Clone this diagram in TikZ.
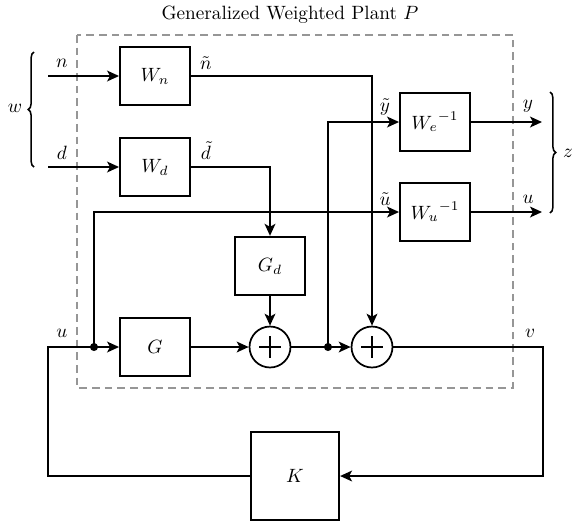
\documentclass[tikz,border=0pt]{standalone}
\usepackage{tikz}
\usetikzlibrary{arrows.meta, decorations.pathreplacing}
\usepackage{amsmath,amssymb}
\definecolor{plantgray}{RGB}{150,150,150}

\begin{document}
\begin{tikzpicture}[
    x=0.52pt, y=-0.52pt,
    block/.style={draw, line width=0.9pt, minimum width=36.5pt, minimum height=30.5pt, inner sep=0pt},
    bigblock/.style={block, minimum width=46pt, minimum height=46pt},
    sumnode/.style={draw, line width=0.9pt, circle, minimum size=21.3pt, inner sep=0pt,
      path picture={\draw[semithick] (path picture bounding box.center) +(-5.7pt,0) -- +(5.7pt,0)
        (path picture bounding box.center) +(0,-5.7pt) -- +(0,5.7pt);}},
    conn/.style={line width=0.9pt, -{Stealth[length=6.2pt, width=5.6pt, inset=1.5pt]}},
    junction/.style={circle, fill, inner sep=0pt, minimum size=4.2pt},
    brace/.style={thick, decorate, decoration={brace, amplitude=3pt}},
  ]
    \useasboundingbox (0,0) rectangle (581,523);
    \node (title) at (290,15) {Generalized Weighted Plant $P$};
    \draw[plantgray, thick, dash pattern=on 4pt off 2.6pt] (77,35) rectangle (513,388);

    \node[block] (wn) at (155,76) {$W_n$};
    \node[block] (wd) at (155,167) {$W_d$};
    \node[block] (gd) at (270,266) {$G_d$};
    \node[block] (g) at (155,347) {$G$};
    \node[sumnode] (sum1) at (270,347) {};
    \node[sumnode] (sum2) at (372,347) {};
    \node[block] (we) at (435,122) {${W_e}^{-1}$};
    \node[block] (wu) at (435,212) {${W_u}^{-1}$};
    \node[bigblock] (k) at (295,476) {$K$};

    \node[junction] (uj) at (94,347) {};
    \node[junction] (yj) at (328,347) {};
    \coordinate (nin) at (48,76);
    \coordinate (din) at (48,167);
    \coordinate (yout) at (542,122);
    \coordinate (uout) at (542,212);
    \coordinate (uturn) at (48,347);
    \coordinate (vturn) at (543,347);

    \draw[conn] (nin) -- (wn);
    \draw[conn] (din) -- (wd);
    \draw[conn] (wn.east) -| (sum2.north);
    \draw[conn] (wd.east) -| (gd.north);
    \draw[conn] (gd) -- (sum1);
    \draw[conn] (g) -- (sum1);
    \draw[conn] (sum1) -- (sum2);
    \draw[conn] (yj.center) |- (we.west);
    \draw[conn] (uj.center) |- (wu.west);
    \draw[conn] (we) -- (yout);
    \draw[conn] (wu) -- (uout);
    \draw[conn] (sum2.east) -- (vturn) |- (k.east);
    \draw[conn] (k.west) -| (uturn) -- (g.west);

    \draw[brace] (34,167) -- (34,52);
    \draw[brace] (550,92) -- (550,213);

    \node (lw) at (15,108) {$w$};
    \node (lz) at (568,153) {$z$};
    \node (ln) at (62,63) {$n$};
    \node (ld) at (62,153) {$d$};
    \node (lnt) at (206,63) {$\tilde{n}$};
    \node (ldt) at (206,151) {$\tilde{d}$};
    \node (lyt) at (385,107) {$\tilde{y}$};
    \node (lut) at (385,199) {$\tilde{u}$};
    \node (ly) at (528,106) {$y$};
    \node (lu) at (528,199) {$u$};
    \node (lufb) at (62,333) {$u$};
    \node (lv) at (530,333) {$v$};
  \end{tikzpicture}
\end{document}
